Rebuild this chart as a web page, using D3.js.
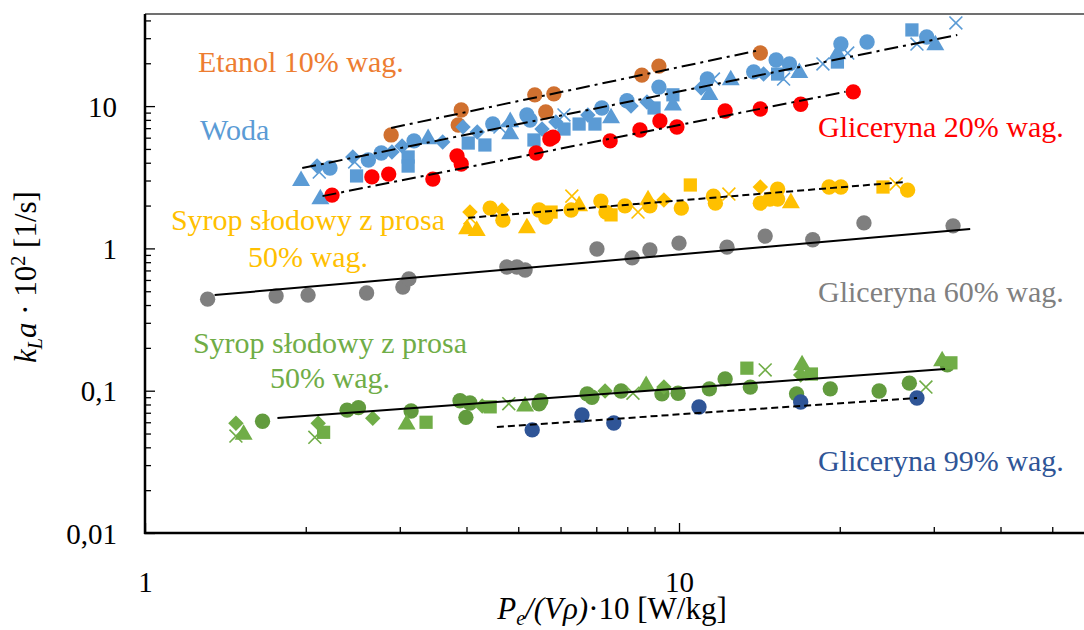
<!DOCTYPE html>
<html>
<head>
<meta charset="utf-8">
<script src="https://cdn.jsdelivr.net/npm/d3@7"></script>
<style>
  body { margin: 0; background: #fff; }
  svg { display: block; }
  text { font-family: "Liberation Serif", "DejaVu Serif", serif; }
</style>
</head>
<body>
<svg id="chart" width="1084" height="630" font-family="Liberation Serif"></svg>
<script>
// values: [shape, P/(V rho)*10, kLa*10^2]
// shapes: o circle, d diamond, s square, t triangle, x cross
var etanol = [
  ["o",2.89,6.27],["o",3.86,7.36],["o",3.91,9.39],["o",5.37,12.0],["o",5.63,9.09],
  ["o",5.83,12.2],["o",8.52,16.5],["o",9.17,19.1],["o",14.2,23.6]
];

var woda = [
  ["o",2.22,3.67],["o",2.62,4.18],["o",2.77,4.68],["o",3.19,5.69],["o",4.48,7.48],
  ["o",5.19,8.66],["o",5.26,7.98],["o",7.17,9.7],["o",7.99,10.9],["o",9.17,13.6],
  ["o",11.3,15.5],["o",13.8,17.4],["o",15.2,21.1],["o",16.1,19.8],["o",20.1,27.3],
  ["o",22.5,28.2],["o",29.1,30.6],
  ["d",2.10,3.79],["d",2.45,4.39],["d",2.90,4.76],["d",3.03,5.25],["d",3.61,5.60],
  ["d",3.94,7.13],["d",4.19,6.58],["d",5.54,6.90],["d",5.88,7.73],["d",6.75,8.66],
  ["d",8.13,10.0],["d",8.71,10.7],["d",11.0,13.4],["d",14.4,16.8],
  ["s",2.49,3.23],["s",3.11,4.39],["s",3.11,3.79],["s",4.03,5.50],["s",4.33,5.33],
  ["s",5.35,5.78],["s",6.09,6.90],["s",6.50,7.48],["s",6.96,7.48],["s",8.98,9.7],
  ["s",9.74,12.0],["s",15.3,16.8],["s",19.8,20.4],["s",27.3,34.3],
  ["t",1.96,3.03],["t",2.13,2.26],["t",3.39,5.97],["t",4.83,7.86],["t",4.83,6.47],
  ["t",7.46,8.38],["t",9.74,10.3],["t",11.4,12.2],["t",12.5,15.5],["t",16.8,17.4],
  ["t",19.8,23.6],["t",30.2,27.3],
  ["x",2.12,3.44],["x",2.47,4.05],["x",4.62,7.13],["x",6.09,8.66],["x",11.6,15.5],
  ["x",15.7,15.5],["x",18.6,19.8],["x",20.7,23.6],["x",27.9,27.3],["x",33.0,38.4]
];

var glic20 = [
  ["o",2.24,2.37],["o",2.66,3.18],["o",2.86,3.33],["o",3.46,3.07],["o",3.84,4.46],
  ["o",3.91,3.92],["o",5.40,4.68],["o",5.73,5.87],["o",5.81,6.06],["o",7.43,5.69],
  ["o",8.45,6.79],["o",9.21,7.86],["o",9.91,7.13],["o",12.2,9.24],["o",14.2,9.54],
  ["o",16.9,10.3],["o",21.2,12.6]
];

var syropY = [
  ["o",4.43,1.92],["o",4.68,1.58],["o",5.47,1.86],["o",5.63,1.66],["o",6.28,1.86],
  ["o",7.14,2.15],["o",7.30,1.80],["o",7.92,1.99],["o",8.82,1.99],["o",10.1,1.92],
  ["o",11.6,2.33],["o",11.7,2.08],["o",14.2,2.08],["o",14.8,2.22],["o",15.3,2.22],
  ["o",15.3,2.61],["o",19.1,2.70],["o",20.1,2.70],["o",26.8,2.57],
  ["d",4.06,1.80],["d",4.66,1.86],["d",9.37,2.19],["d",14.2,2.70],
  ["s",5.76,1.80],["s",7.46,1.72],["s",10.5,2.79],["s",24.1,2.70],
  ["t",4.01,1.39],["t",4.18,1.35],["t",5.19,1.41],["t",6.50,2.02],["t",8.75,2.22],["t",16.2,2.12],
  ["x",4.06,1.64],["x",6.30,2.33],["x",8.38,1.80],["x",12.4,2.41],["x",25.5,2.84]
];

var glic60 = [
  ["o",1.31,0.44],["o",1.76,0.463],["o",2.02,0.47],["o",2.60,0.486],["o",3.04,0.535],
  ["o",3.12,0.61],["o",4.76,0.74],["o",4.97,0.74],["o",5.15,0.705],["o",7.02,0.99],
  ["o",8.17,0.857],["o",8.82,0.975],["o",10.0,1.09],["o",12.3,1.02],["o",14.5,1.22],
  ["o",17.8,1.15],["o",22.2,1.51],["o",32.6,1.44]
];

var syropG = [
  ["o",1.66,0.061],["o",2.39,0.073],["o",2.51,0.076],["o",3.15,0.072],["o",3.89,0.085],
  ["o",4.06,0.082],["o",3.99,0.065],["o",5.47,0.081],["o",5.51,0.085],["o",6.73,0.095],
  ["o",6.87,0.090],["o",7.79,0.0995],["o",9.29,0.095],["o",9.96,0.096],["o",11.4,0.103],
  ["o",12.2,0.121],["o",13.6,0.106],["o",16.6,0.095],["o",19.2,0.103],["o",23.7,0.0995],
  ["o",27.0,0.113],["o",31.8,0.152],
  ["d",1.48,0.059],["d",2.11,0.059],["d",2.67,0.064],["d",4.28,0.078],["d",7.27,0.0995],
  ["d",9.37,0.106],["d",16.9,0.129],
  ["s",2.16,0.051],["s",3.36,0.060],["s",4.43,0.077],["s",13.4,0.144],["s",17.7,0.131],["s",32.3,0.157],
  ["t",1.53,0.050],["t",3.09,0.059],["t",5.15,0.079],["t",8.68,0.110],["t",17.0,0.154],["t",31.1,0.164],
  ["x",1.48,0.048],["x",2.08,0.047],["x",4.80,0.081],["x",8.20,0.096],["x",14.5,0.140],["x",29.0,0.106]
];

var glic99 = [
  ["o",5.31,0.053],["o",6.58,0.0675],["o",7.55,0.0593],["o",10.9,0.0768],["o",16.9,0.0833],["o",27.9,0.0889]
];

// trend line end points [x, y]
var etanolFit = [[2.89,7.02],[14.2,24.8]];
var wodaFit   = [[1.97,3.67],[33.2,31.6]];
var glic20Fit = [[2.15,2.33],[20.5,12.6]];
var syropYFit = [[4.03,1.64],[26.5,2.93]];
var glic60Fit = [[1.35,0.470],[35.1,1.37]];
var syropGFit = [[1.77,0.0643],[31.5,0.142]];
var glic99Fit = [[4.56,0.0556],[27.9,0.0889]];

var yMajor = [0.01, 0.1, 1, 10];
var yMinor = [0.02,0.03,0.04,0.05,0.06,0.07,0.08,0.09,0.2,0.3,0.4,0.5,0.6,0.7,0.8,0.9,
              2,3,4,5,6,7,8,9,20,30,40];
var xMajor = [1, 10];
var xMinor = [2,3,4,5,6,7,8,9,20,30,40,50,60,70,80,90];

var svg = d3.select("#chart");
var plotLeft = 145, plotBottom = 533, plotTop = 14, plotRight = 1084;

var x = d3.scaleLog().domain([1, 100]).range([plotLeft, plotLeft + 2 * 534]);
var y = d3.scaleLog().domain([0.01, 100]).range([plotBottom, plotBottom - 4 * 142.3]);

svg.append("defs").append("clipPath").attr("id", "plotclip")
  .append("rect").attr("x", plotLeft).attr("y", plotTop)
  .attr("width", plotRight - plotLeft).attr("height", plotBottom - plotTop);

// top frame line
svg.append("line").attr("x1", plotLeft).attr("x2", plotRight).attr("y1", plotTop).attr("y2", plotTop)
  .attr("stroke", "#404040").attr("stroke-width", 1.5);

var plot = svg.append("g").attr("clip-path", "url(#plotclip)");

function shapePath(code) {
  if (code === "o") return d3.symbol().type(d3.symbolCircle).size(185)();
  if (code === "s") return d3.symbol().type(d3.symbolSquare).size(175)();
  if (code === "t") return d3.symbol().type(d3.symbolTriangle).size(140)();
  if (code === "d") return d3.symbol().type(d3.symbolSquare).size(120)();
  return d3.symbol().type(d3.symbolX).size(110)();
}

function plotSeries(data, color, circleColor) {
  plot.append("g").selectAll("path")
    .data(data)
    .enter()
    .append("path")
    .attr("d", function(d) { return shapePath(d[0]); })
    .attr("transform", function(d) {
      var t = "translate(" + x(d[1]) + "," + y(d[2]) + ")";
      if (d[0] === "d") t += " rotate(45)";
      if (d[0] === "t") t += " translate(0,1)";
      return t;
    })
    .attr("fill", function(d) {
      if (d[0] === "x") return "none";
      return d[0] === "o" && circleColor ? circleColor : color;
    })
    .attr("stroke", function(d) { return d[0] === "x" ? color : "none"; })
    .attr("stroke-width", 1.6);
}

plotSeries(etanol, "#D0702F");
plotSeries(woda, "#5B9BD5");
plotSeries(glic20, "#FF0000");
plotSeries(syropY, "#FFC000");
plotSeries(glic60, "#7F7F7F");
plotSeries(syropG, "#70AD47", "#629B3E");
plotSeries(glic99, "#2F5597");

var dashDot = "14,5,3,5";
var shortDash = "7,4";
function plotFit(pts, dash) {
  plot.append("line")
    .attr("x1", x(pts[0][0])).attr("y1", y(pts[0][1]))
    .attr("x2", x(pts[1][0])).attr("y2", y(pts[1][1]))
    .attr("stroke", "#000").attr("stroke-width", 2)
    .attr("stroke-dasharray", dash);
}
plotFit(etanolFit, dashDot);
plotFit(wodaFit, dashDot);
plotFit(glic20Fit, dashDot);
plotFit(syropYFit, shortDash);
plotFit(glic60Fit, null);
plotFit(syropGFit, null);
plotFit(glic99Fit, shortDash);

// axes, ticks pointing inside
var fmt = function(d) { return String(d).replace(".", ","); };
svg.append("g").attr("transform", "translate(" + plotLeft + ",0)")
  .call(d3.axisLeft(y).tickValues(yMinor).tickSize(-6).tickFormat(""))
  .call(function(g) { g.select(".domain").remove(); });
var yAx = svg.append("g").attr("transform", "translate(" + plotLeft + ",0)")
  .call(d3.axisLeft(y).tickValues(yMajor).tickSize(-10).tickSizeOuter(0).tickPadding(28).tickFormat(fmt));

svg.append("g").attr("transform", "translate(0," + plotBottom + ")")
  .call(d3.axisBottom(x).tickValues(xMinor).tickSize(-6).tickFormat(""))
  .call(function(g) { g.select(".domain").remove(); });
var xAx = svg.append("g").attr("transform", "translate(0," + plotBottom + ")")
  .call(d3.axisBottom(x).tickValues(xMajor).tickSize(-10).tickSizeOuter(0).tickPadding(38).tickFormat(fmt));

svg.selectAll(".tick line").attr("stroke", "#000").attr("stroke-width", 1.3);
yAx.select(".domain").remove();
xAx.select(".domain").remove();
svg.append("line").attr("x1", plotLeft).attr("x2", plotLeft).attr("y1", plotTop).attr("y2", plotBottom + 1)
  .attr("stroke", "#000").attr("stroke-width", 2.5);
svg.append("line").attr("x1", plotLeft - 1).attr("x2", plotRight).attr("y1", plotBottom).attr("y2", plotBottom)
  .attr("stroke", "#000").attr("stroke-width", 2.5);
svg.selectAll(".tick text")
  .attr("font-family", "Liberation Serif").attr("font-size", 29).attr("fill", "#000");
yAx.selectAll(".tick text").attr("dy", "0.35em");

// annotations
var notes = [
  {t: "Etanol 10% wag.", x: 198, y: 72, c: "#ED7D31", a: "start"},
  {t: "Woda", x: 200, y: 140, c: "#5B9BD5", a: "start"},
  {t: "Gliceryna 20% wag.", x: 818, y: 137, c: "#FF0000", a: "start"},
  {t: "Syrop słodowy z prosa", x: 308, y: 230, c: "#FFC000", a: "middle"},
  {t: "50% wag.", x: 308, y: 267, c: "#FFC000", a: "middle"},
  {t: "Gliceryna 60% wag.", x: 818, y: 302, c: "#808080", a: "start"},
  {t: "Syrop słodowy z prosa", x: 330, y: 353, c: "#70AD47", a: "middle"},
  {t: "50% wag.", x: 330, y: 388, c: "#70AD47", a: "middle"},
  {t: "Gliceryna 99% wag.", x: 818, y: 471, c: "#2F5597", a: "start"}
];
svg.append("g").selectAll("text").data(notes).enter().append("text")
  .attr("x", function(d) { return d.x; })
  .attr("y", function(d) { return d.y; })
  .attr("text-anchor", function(d) { return d.a; })
  .attr("fill", function(d) { return d.c; })
  .attr("font-family", "Liberation Serif")
  .attr("font-size", 30)
  .text(function(d) { return d.t; });

// axis titles
var yt = svg.append("text")
  .attr("transform", "translate(36,277) rotate(-90)")
  .attr("text-anchor", "middle").attr("font-family", "Liberation Serif").attr("font-size", 31);
yt.append("tspan").attr("font-style", "italic").text("k");
yt.append("tspan").attr("font-style", "italic").attr("font-size", 20).attr("dy", 6).text("L");
yt.append("tspan").attr("font-style", "italic").attr("dy", -6).text("a");
yt.append("tspan").text(" · 10");
yt.append("tspan").attr("font-size", 20).attr("dy", -11).text("2");
yt.append("tspan").attr("dy", 11).text(" [1/s]");

var xt = svg.append("text")
  .attr("x", 612).attr("y", 619)
  .attr("text-anchor", "middle").attr("font-family", "Liberation Serif").attr("font-size", 31);
xt.append("tspan").attr("font-style", "italic").text("P");
xt.append("tspan").attr("font-style", "italic").attr("font-size", 20).attr("dy", 6).text("e");
xt.append("tspan").attr("font-style", "italic").attr("dy", -6).text("/(Vρ)");
xt.append("tspan").text("·10 [W/kg]");
</script>
</body>
</html>
